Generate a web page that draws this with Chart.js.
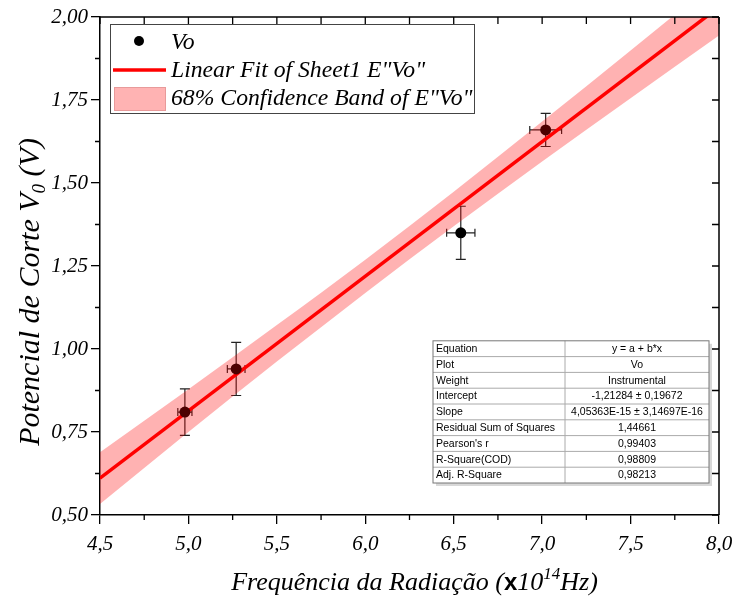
<!DOCTYPE html>
<html>
<head>
<meta charset="utf-8">
<script src="https://cdn.jsdelivr.net/npm/chart.js@4.4.1/dist/chart.umd.min.js"></script>
<style>
  body { margin: 0; background: #fff; }
</style>
</head>
<body>
<canvas id="chart" width="735" height="599"></canvas>
<script>
// measured points (x in 10^14 Hz, y in V)
const freq = [4.98, 5.27, 6.54, 7.02];
const vo = [0.81, 0.94, 1.35, 1.66];
const freqErr = [0.04, 0.05, 0.08, 0.09];
const voErr = [0.07, 0.08, 0.08, 0.05];

// linear fit end points
const fitX = [4.5, 8.0];
const fitY = [0.611, 2.030];

// 68% confidence band
const bandX = [4.5, 5.0, 5.5, 6.0, 6.5, 7.0, 7.5, 8.0];
const bandUpper = [0.689, 0.879, 1.072, 1.269, 1.474, 1.685, 1.899, 2.116];
const bandLower = [0.533, 0.750, 0.962, 1.169, 1.370, 1.565, 1.755, 1.944];

const tableLabels = ['Equation', 'Plot', 'Weight', 'Intercept', 'Slope',
    'Residual Sum of Squares', "Pearson's r", 'R-Square(COD)', 'Adj. R-Square'];
const tableValues = ['y = a + b*x', 'Vo', 'Instrumental', '-1,21284 ± 0,19672',
    '4,05363E-15 ± 3,14697E-16', '1,44661', '0,99403', '0,98809', '0,98213'];

const legendLabels = ['Vo', 'Linear Fit of Sheet1 E"Vo"', '68% Confidence Band of E"Vo"'];

const serif = '"Liberation Serif", "Times New Roman", serif';
const bandColor = 'rgba(255, 0, 0, 0.3)';

const decoration = {
    id: 'decoration',
    beforeDatasetsDraw(chart) {
        // error bars, under the points and the band
        const { ctx, scales: { x, y } } = chart;
        ctx.save();
        ctx.strokeStyle = '#222';
        ctx.lineWidth = 1.2;
        freq.forEach((f, i) => {
            const px = x.getPixelForValue(f);
            const py = y.getPixelForValue(vo[i]);
            const xa = x.getPixelForValue(f - freqErr[i]);
            const xb = x.getPixelForValue(f + freqErr[i]);
            const ya = y.getPixelForValue(vo[i] - voErr[i]);
            const yb = y.getPixelForValue(vo[i] + voErr[i]);
            ctx.beginPath();
            ctx.moveTo(px, ya); ctx.lineTo(px, yb);
            ctx.moveTo(px - 5, ya); ctx.lineTo(px + 5, ya);
            ctx.moveTo(px - 5, yb); ctx.lineTo(px + 5, yb);
            ctx.moveTo(xa, py); ctx.lineTo(xb, py);
            ctx.moveTo(xa, py - 4); ctx.lineTo(xa, py + 4);
            ctx.moveTo(xb, py - 4); ctx.lineTo(xb, py + 4);
            ctx.stroke();
        });
        ctx.restore();
    },
    afterDraw(chart) {
        const { ctx, chartArea: a, scales: { x, y } } = chart;
        ctx.save();

        // frame, minor ticks and mirrored ticks
        ctx.strokeStyle = '#000';
        ctx.lineWidth = 1.5;
        ctx.beginPath();
        ctx.moveTo(a.left, a.top); ctx.lineTo(a.right, a.top);
        ctx.moveTo(a.right, a.top); ctx.lineTo(a.right, a.bottom);
        ctx.stroke();
        ctx.lineWidth = 1.3;
        ctx.beginPath();
        for (let k = 0; k <= 12; k++) {
            const py = y.getPixelForValue(y.min + k * 0.125);
            if (k % 2) { ctx.moveTo(a.left, py); ctx.lineTo(a.left - 5, py); }
            ctx.moveTo(a.right, py); ctx.lineTo(a.right - 7, py);
        }
        for (let k = 0; k <= 14; k++) {
            const px = x.getPixelForValue(x.min + k * 0.25);
            if (k % 2) { ctx.moveTo(px, a.bottom); ctx.lineTo(px, a.bottom + 5); }
            ctx.moveTo(px, a.top); ctx.lineTo(px, a.top + 7);
        }
        ctx.stroke();

        // legend
        const lx = a.left + 10, ly = a.top + 7;
        ctx.fillStyle = '#fff';
        ctx.fillRect(lx, ly, 364, 89);
        ctx.strokeStyle = '#444';
        ctx.lineWidth = 1;
        ctx.strokeRect(lx + 0.5, ly + 0.5, 364, 89);
        ctx.fillStyle = '#000';
        ctx.beginPath();
        ctx.arc(lx + 29, ly + 17, 5, 0, Math.PI * 2);
        ctx.fill();
        ctx.strokeStyle = '#f00';
        ctx.lineWidth = 3.5;
        ctx.beginPath();
        ctx.moveTo(lx + 3, ly + 46); ctx.lineTo(lx + 56, ly + 46);
        ctx.stroke();
        ctx.fillStyle = '#ffb3b3';
        ctx.fillRect(lx + 4, ly + 63, 51, 23);
        ctx.strokeStyle = '#e89a9a';
        ctx.lineWidth = 1;
        ctx.strokeRect(lx + 4.5, ly + 63.5, 51, 23);
        ctx.fillStyle = '#000';
        ctx.font = 'italic 23.7px ' + serif;
        ctx.textAlign = 'left';
        ctx.textBaseline = 'alphabetic';
        legendLabels.forEach((t, i) => ctx.fillText(t, lx + 61, ly + 25 + i * 28));

        // fit statistics table
        const rowH = 15.8, colW = 132;
        const tw = 276, th = rowH * tableLabels.length;
        const tx = a.right - 10 - tw, ty = a.bottom - 32 - th;
        ctx.fillStyle = '#d8d8d8';
        ctx.fillRect(tx + 3, ty + 3, tw, th);
        ctx.fillStyle = '#fff';
        ctx.fillRect(tx, ty, tw, th);
        ctx.strokeStyle = '#aaa';
        ctx.lineWidth = 1;
        ctx.beginPath();
        for (let r = 1; r < tableLabels.length; r++) {
            ctx.moveTo(tx, ty + r * rowH); ctx.lineTo(tx + tw, ty + r * rowH);
        }
        ctx.moveTo(tx + colW, ty); ctx.lineTo(tx + colW, ty + th);
        ctx.stroke();
        ctx.strokeStyle = '#777';
        ctx.strokeRect(tx, ty, tw, th);
        ctx.fillStyle = '#000';
        ctx.font = '10.5px "Liberation Sans", Arial, sans-serif';
        ctx.textBaseline = 'middle';
        tableLabels.forEach((t, r) => {
            const cy = ty + r * rowH + rowH / 2 + 0.5;
            ctx.textAlign = 'left';
            ctx.fillText(t, tx + 3, cy);
            ctx.textAlign = 'center';
            ctx.fillText(tableValues[r], tx + colW + (tw - colW) / 2, cy);
        });

        // axis titles with sub/superscripts
        ctx.textBaseline = 'alphabetic';
        ctx.textAlign = 'left';
        const bigX = 'italic 26px ' + serif, smallX = 'italic 17px ' + serif;
        const bigY = 'italic 30px ' + serif, smallY = 'italic 19px ' + serif;
        const partsY = [['Potencial de Corte V', bigY, 0], ['0', smallY, 6], [' (V)', bigY, 0]];
        const partsX = [['Frequência da Radiação (', bigX, 0], ['x', 'bold 24px "Liberation Sans", Arial, sans-serif', 0],
            ['10', bigX, 0], ['14', smallX, -11], ['Hz)', bigX, 0]];
        const drawParts = (parts, cx, cy, rot) => {
            let w = 0;
            parts.forEach(p => { ctx.font = p[1]; w += ctx.measureText(p[0]).width; });
            ctx.save();
            ctx.translate(cx, cy);
            ctx.rotate(rot);
            let pos = -w / 2;
            parts.forEach(p => {
                ctx.font = p[1];
                ctx.fillText(p[0], pos, p[2]);
                pos += ctx.measureText(p[0]).width;
            });
            ctx.restore();
        };
        drawParts(partsY, 39, 292, -Math.PI / 2);
        drawParts(partsX, (a.left + a.right) / 2 + 5, 590, 0);

        ctx.restore();
    }
};

const pts = (xs, ys) => xs.map((v, i) => ({ x: v, y: ys[i] }));

new Chart(document.getElementById('chart'), {
    type: 'line',
    data: {
        datasets: [
            {
                label: 'band lower',
                data: pts(bandX, bandLower),
                borderWidth: 0,
                borderColor: 'rgba(0,0,0,0)',
                pointRadius: 0,
                cubicInterpolationMode: 'monotone',
                fill: false,
                clip: 0
            },
            {
                label: '68% Confidence Band of E"Vo"',
                data: pts(bandX, bandUpper),
                borderWidth: 0,
                borderColor: 'rgba(0,0,0,0)',
                backgroundColor: bandColor,
                pointRadius: 0,
                cubicInterpolationMode: 'monotone',
                fill: '-1',
                clip: 0
            },
            {
                label: 'Vo',
                data: pts(freq, vo),
                showLine: false,
                pointRadius: 5.5,
                pointBackgroundColor: '#000',
                pointBorderColor: '#000',
                pointBorderWidth: 0,
                clip: 0
            },
            {
                label: 'Linear Fit of Sheet1 E"Vo"',
                data: pts(fitX, fitY),
                borderColor: '#f00',
                borderWidth: 3.5,
                pointRadius: 0,
                fill: false,
                clip: 0
            }
        ]
    },
    options: {
        responsive: false,
        animation: false,
        events: [],
        layout: { padding: { top: 17, right: 16, left: 0, bottom: 0 } },
        plugins: {
            legend: { display: false },
            tooltip: { enabled: false }
        },
        scales: {
            x: {
                type: 'linear',
                min: 4.5,
                max: 8.0,
                afterFit: scale => {
                    scale.height = 84;
                    scale.paddingLeft = 0;
                    scale.paddingRight = 0;
                },
                ticks: {
                    stepSize: 0.5,
                    color: '#000',
                    padding: 8,
                    maxRotation: 0,
                    font: { family: serif, size: 21, style: 'italic' },
                    callback: v => v.toFixed(1).replace('.', ',')
                },
                grid: { drawOnChartArea: false, tickLength: 9, color: '#000', lineWidth: 1.3 },
                border: { color: '#000', width: 1.5 }
            },
            y: {
                min: 0.5,
                max: 2.0,
                afterFit: scale => { scale.width = 100; },
                ticks: {
                    stepSize: 0.25,
                    color: '#000',
                    padding: 3,
                    font: { family: serif, size: 21, style: 'italic' },
                    callback: v => v.toFixed(2).replace('.', ',')
                },
                grid: { drawOnChartArea: false, tickLength: 9, color: '#000', lineWidth: 1.3 },
                border: { color: '#000', width: 1.5 }
            }
        }
    },
    plugins: [decoration]
});
</script>
</body>
</html>
